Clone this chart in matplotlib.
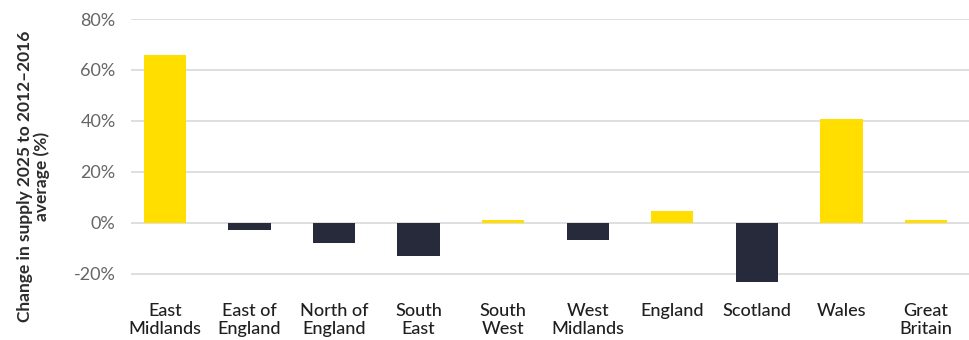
import matplotlib.pyplot as plt
from matplotlib.ticker import FuncFormatter

regions = ['East\nMidlands', 'East of\nEngland', 'North of\nEngland', 'South\nEast',
           'South\nWest', 'West\nMidlands', 'England', 'Scotland', 'Wales', 'Great\nBritain']
change = [65.7, -2.7, -8.1, -13.2, 1.2, -6.9, 4.7, -23.1, 40.7, 1.0]

yellow = '#FFDE00'
navy = '#262A3B'
colors = [yellow if v >= 0 else navy for v in change]

plt.rcParams['font.family'] = ['Lato', 'DejaVu Sans']

fig = plt.figure(figsize=(9.7, 3.4), dpi=100)
ax = fig.add_axes([0.135, 0.1574, 0.865, 0.7867])

x = range(len(regions))
ax.bar(x, change, width=0.5, color=colors, zorder=3)

ax.set_ylim(-25, 80)
ax.set_yticks([-20, 0, 20, 40, 60, 80])
ax.yaxis.set_major_formatter(FuncFormatter(lambda v, p: f'{v:.0f}%'))
ax.set_xlim(-0.40, 9.52)
ax.set_xticks(list(x))
ax.set_xticklabels(regions, fontsize=13, color='#1f1f1f', fontweight='medium',
                   linespacing=1.15)
ax.tick_params(axis='y', labelsize=13, labelcolor='#666666', length=0, pad=11)
ax.tick_params(axis='x', length=0, pad=12)
ax.grid(axis='y', color='#dcdcdc', linewidth=1.3, zorder=0)
for s in ax.spines.values():
    s.set_visible(False)

ax.set_ylabel('Change in supply 2025 to 2012–2016\naverage (%)', fontsize=12.5,
              fontweight='bold', color='#2b2b2b', linespacing=1.0)
ax.yaxis.set_label_coords(-0.097, 0.413)

fig.savefig('out.png', dpi=100)
